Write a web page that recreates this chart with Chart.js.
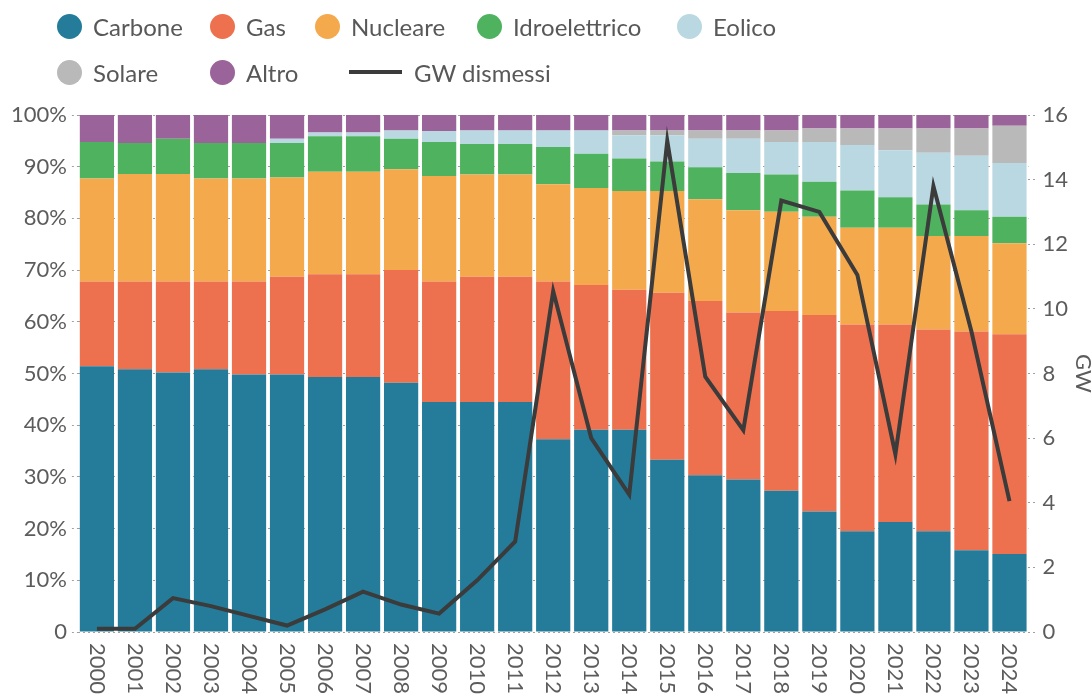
<!DOCTYPE html>
<html lang="it">
<head>
<meta charset="utf-8">
<title>Produzione elettrica e GW dismessi</title>
<script src="https://cdn.jsdelivr.net/npm/chart.js@4.4.1/dist/chart.umd.min.js"></script>
<style>
    html, body { margin: 0; padding: 0; background: #fff; }
    .wrap { position: relative; width: 1091px; height: 699px; overflow: hidden; }
    #mixChart { position: absolute; left: 0; top: 0; }
    .legend-item {
        position: absolute;
        display: flex;
        align-items: center;
        height: 30px;
        font-family: Lato, sans-serif;
        font-size: 24px;
        color: #585858;
        white-space: nowrap;
    }
    .legend-dot { width: 25px; height: 25px; border-radius: 50%; margin-right: 11px; }
    .legend-line { width: 53px; height: 4px; background: #3b3b3b; margin-right: 12px; }
</style>
</head>
<body>
<div class="wrap">
    <canvas id="mixChart" width="1091" height="699"></canvas>
    <div id="legend"></div>
</div>

<script>
/* ============================================
   MIX ELETTRICO (%) + GW DISMESSI
   ============================================ */

const years = ['2000', '2001', '2002', '2003', '2004', '2005', '2006', '2007', '2008', '2009',
    '2010', '2011', '2012', '2013', '2014', '2015', '2016', '2017', '2018', '2019',
    '2020', '2021', '2022', '2023', '2024'];

// quote percentuali
const carbone = [51.4, 50.8, 50.2, 50.8, 49.8, 49.8, 49.3, 49.3, 48.2, 44.5,
    44.5, 44.5, 37.3, 39.1, 39.1, 33.3, 30.3, 29.5, 27.3, 23.3,
    19.5, 21.3, 19.5, 15.8, 15.1];
const gas = [16.4, 17.0, 17.6, 17.0, 18.0, 18.9, 19.9, 19.9, 21.8, 23.3,
    24.2, 24.2, 30.5, 28.0, 27.1, 32.3, 33.7, 32.3, 34.8, 38.0,
    40.0, 38.2, 39.0, 42.3, 42.5];
const nucleare = [19.9, 20.8, 20.8, 19.9, 19.9, 19.2, 19.8, 19.8, 19.5, 20.4,
    19.8, 19.8, 18.8, 18.8, 19.1, 19.7, 19.7, 19.8, 19.2, 19.0,
    18.7, 18.7, 18.1, 18.5, 17.6];
const idroelettrico = [7.1, 6.0, 6.8, 6.9, 6.9, 6.7, 6.9, 6.9, 5.9, 6.6,
    5.9, 5.9, 7.2, 6.6, 6.3, 5.7, 6.2, 7.2, 7.2, 6.8,
    7.2, 5.9, 6.1, 5.0, 5.1];
const eolico = [0, 0, 0, 0, 0, 0.8, 0.7, 0.7, 1.6, 2.1,
    2.6, 2.6, 3.2, 4.5, 4.5, 5.1, 5.5, 6.6, 6.3, 7.7,
    8.8, 9.1, 10.0, 10.5, 10.4];
const solare = [0, 0, 0, 0, 0, 0, 0, 0, 0, 0,
    0, 0, 0, 0, 0.9, 0.9, 1.6, 1.6, 2.2, 2.6,
    3.2, 4.2, 4.7, 5.3, 7.2];
const altro = [5.2, 5.4, 4.6, 5.4, 5.4, 4.6, 3.4, 3.4, 3.0, 3.1,
    3.0, 3.0, 3.0, 3.0, 3.0, 3.0, 3.0, 3.0, 3.0, 2.6,
    2.6, 2.6, 2.6, 2.6, 2.1];

// GW dismessi (asse destro)
const gwDismessi = [0.1, 0.1, 1.05, 0.8, 0.5, 0.2, 0.7, 1.25, 0.85, 0.57,
    1.6, 2.8, 10.55, 6.0, 4.25, 15.2, 7.9, 6.25, 13.35, 13.0,
    11.05, 5.5, 13.8, 9.3, 4.05];

const pctTicks = [0, 10, 20, 30, 40, 50, 60, 70, 80, 90, 100];
const gwTicks = [0, 2, 4, 6, 8, 10, 12, 14, 16];

const colors = {
    Carbone: '#247c9a',
    Gas: '#ed714f',
    Nucleare: '#f5a94d',
    Idroelettrico: '#4fb25e',
    Eolico: '#bad8e1',
    Solare: '#b9b9b9',
    Altro: '#9a6399'
};

const textColor = '#5c5c5c';
const gridColor = '#a0a0a0';
const fontFamily = 'Lato, sans-serif';

function barSet(label, data) {
    return {
        type: 'bar',
        label: label,
        data: data,
        backgroundColor: colors[label],
        borderWidth: 0,
        barPercentage: 0.9,
        categoryPercentage: 1.0,
        yAxisID: 'y',
        order: 2
    };
}

// Etichette anno e titolo "GW" ruotati in senso orario (lettura dall'alto verso il basso)
const rotatedLabels = {
    id: 'rotatedLabels',
    afterDraw(chart) {
        const ctx = chart.ctx;
        const xScale = chart.scales.x;
        const area = chart.chartArea;
        const top = area.bottom + 11;
        ctx.save();
        ctx.font = '22px ' + fontFamily;
        ctx.fillStyle = textColor;
        ctx.textAlign = 'left';
        ctx.textBaseline = 'middle';
        years.forEach((y, i) => {
            ctx.save();
            ctx.translate(xScale.getPixelForValue(i), top);
            ctx.rotate(Math.PI / 2);
            ctx.fillText(y, 0, 0);
            ctx.restore();
        });

        // titolo asse destro
        ctx.save();
        ctx.textAlign = 'center';
        ctx.translate(chart.scales.y2.right + 10, (area.top + area.bottom) / 2);
        ctx.rotate(Math.PI / 2);
        ctx.fillText('GW', 0, 0);
        ctx.restore();
        ctx.restore();
    }
};

new Chart(document.getElementById('mixChart'), {
    data: {
        labels: years,
        datasets: [
            {
                type: 'line',
                label: 'GW dismessi',
                data: gwDismessi,
                borderColor: '#3b3b3b',
                borderWidth: 4,
                pointRadius: 0,
                tension: 0,
                fill: false,
                yAxisID: 'y2',
                order: 0
            },
            barSet('Carbone', carbone),
            barSet('Gas', gas),
            barSet('Nucleare', nucleare),
            barSet('Idroelettrico', idroelettrico),
            barSet('Eolico', eolico),
            barSet('Solare', solare),
            barSet('Altro', altro)
        ]
    },
    options: {
        responsive: false,
        animation: false,
        layout: { padding: { top: 115, left: 6, right: 18, bottom: 59 } },
        plugins: {
            legend: { display: false },
            tooltip: { enabled: false }
        },
        scales: {
            x: {
                stacked: true,
                grid: { display: false },
                border: { display: false },
                ticks: { display: false }
            },
            y: {
                stacked: true,
                position: 'left',
                min: 0,
                max: 100,
                afterBuildTicks: (axis) => { axis.ticks = pctTicks.map(v => ({ value: v })); },
                grid: {
                    color: gridColor,
                    lineWidth: 1,
                    tickLength: 6,
                    tickBorderDash: [2, 3],
                    tickColor: gridColor
                },
                border: { display: false, dash: [2, 3] },
                ticks: {
                    padding: 5,
                    color: textColor,
                    font: { family: fontFamily, size: 22 },
                    callback: (v) => v === 0 ? '0' : v + '%'
                }
            },
            y2: {
                position: 'right',
                min: 0,
                max: 16,
                afterBuildTicks: (axis) => { axis.ticks = gwTicks.map(v => ({ value: v })); },
                grid: {
                    drawOnChartArea: false,
                    color: gridColor,
                    tickLength: 9,
                    tickBorderDash: [2, 3],
                    tickColor: gridColor
                },
                border: { display: false },
                ticks: {
                    padding: 5,
                    color: textColor,
                    font: { family: fontFamily, size: 22 }
                }
            }
        }
    },
    plugins: [rotatedLabels]
});

// Legenda HTML (due righe come nell'originale)
const legendItems = [
    { label: 'Carbone', left: 57, top: 11 },
    { label: 'Gas', left: 210, top: 11 },
    { label: 'Nucleare', left: 315, top: 11 },
    { label: 'Idroelettrico', left: 477, top: 11 },
    { label: 'Eolico', left: 677, top: 11 },
    { label: 'Solare', left: 57, top: 57 },
    { label: 'Altro', left: 210, top: 57 },
    { label: 'GW dismessi', left: 349, top: 57, line: true }
];

const legendEl = document.getElementById('legend');
legendItems.forEach(item => {
    const div = document.createElement('div');
    div.className = 'legend-item';
    div.style.left = item.left + 'px';
    div.style.top = item.top + 'px';
    const mark = document.createElement('span');
    if (item.line) {
        mark.className = 'legend-line';
    } else {
        mark.className = 'legend-dot';
        mark.style.background = colors[item.label];
    }
    div.appendChild(mark);
    div.appendChild(document.createTextNode(item.label));
    legendEl.appendChild(div);
});
</script>
</body>
</html>
